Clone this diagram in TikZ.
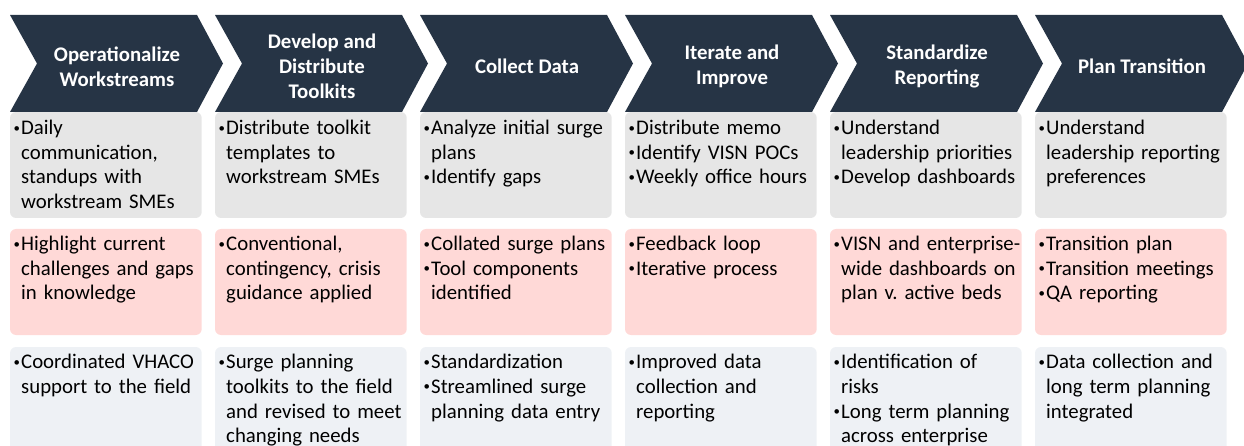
\documentclass[tikz,border=0pt]{standalone}
\usepackage{fontspec}
\setmainfont{Carlito}
\definecolor{navy}{HTML}{263445}
\definecolor{rowgray}{HTML}{E6E6E6}
\definecolor{rowpink}{HTML}{FFD9D7}
\definecolor{rowblue}{HTML}{EEF1F5}
\newcommand{\bl}[1]{\par\hangindent=8pt\hangafter=1\noindent\rule{0pt}{18pt}\makebox[8pt][l]{\hspace{0.5pt}\raisebox{2.6pt}{\scalebox{0.62}{\textbullet}}}#1\par}
\tikzset{
  chev/.style={fill=navy, draw=none},
  htext/.style={text=white, font=\fontsize{20.8}{24.8}\selectfont\bfseries, align=center, inner sep=0pt},
  cell/.style={rounded corners=6pt, draw=none},
  btext/.style={anchor=north west, inner sep=0pt, text width=200pt, font=\fontsize{20.8}{24.6}\selectfont},
}
\newcommand{\stage}[5]{%
  \pgfmathsetmacro{\xx}{10+205*#1}
  \fill[cell, rowgray] (\xx,112) rectangle ++(191.7,106);
  \fill[cell, rowpink] (\xx,229) rectangle ++(191.7,106);
  \fill[cell, rowblue] (\xx,347) rectangle ++(191.7,120);
  \fill[chev] (\xx,15) -- ++(187,0) -- ++(26,48.5) -- ++(-26,48.5) -- ++(-187,0) -- ++(27,-48.5) -- cycle;
  \node[htext] (h#1) at (\xx+107,66.5) {#2};
  \node[btext] (g#1) at (\xx+3,110) {#3};
  \node[btext] (p#1) at (\xx+3,226) {#4};
  \node[btext] (b#1) at (\xx+3,344) {#5};
}
\begin{document}
\begin{tikzpicture}[x=1pt,y=-1pt]
\useasboundingbox (0,0) rectangle (1244,446);
\clip (0,0) rectangle (1244,446);
\stage{0}{Operationalize\\Workstreams}
  {\bl{Daily\newline communication,\newline standups with\newline workstream SMEs}}
  {\bl{Highlight current\newline challenges and gaps\newline in knowledge}}
  {\bl{Coordinated VHACO\newline support to the field}}
\stage{1}{Develop and\\Distribute\\Toolkits}
  {\bl{Distribute toolkit\newline templates to\newline workstream SMEs}}
  {\bl{Conventional,\newline contingency, crisis\newline guidance applied}}
  {\bl{Surge planning\newline toolkits to the field\newline and revised to meet\newline changing needs}}
\stage{2}{Collect Data}
  {\bl{Analyze initial surge\newline plans}\bl{Identify gaps}}
  {\bl{Collated surge plans}\bl{Tool components\newline identified}}
  {\bl{Standardization}\bl{Streamlined surge\newline planning data entry}}
\stage{3}{Iterate and\\Improve}
  {\bl{Distribute memo}\bl{Identify VISN POCs}\bl{Weekly office hours}}
  {\bl{Feedback loop}\bl{Iterative process}}
  {\bl{Improved data\newline collection and\newline reporting}}
\stage{4}{Standardize\\Reporting}
  {\bl{Understand\newline leadership priorities}\bl{Develop dashboards}}
  {\bl{VISN and enterprise-\newline wide dashboards on\newline plan v.\ active beds}}
  {\bl{Identification of\newline risks}\bl{Long term planning\newline across enterprise}}
\stage{5}{Plan Transition}
  {\bl{Understand\newline leadership reporting\newline preferences}}
  {\bl{Transition plan}\bl{Transition meetings}\bl{QA reporting}}
  {\bl{Data collection and\newline long term planning\newline integrated}}
\end{tikzpicture}
\end{document}
